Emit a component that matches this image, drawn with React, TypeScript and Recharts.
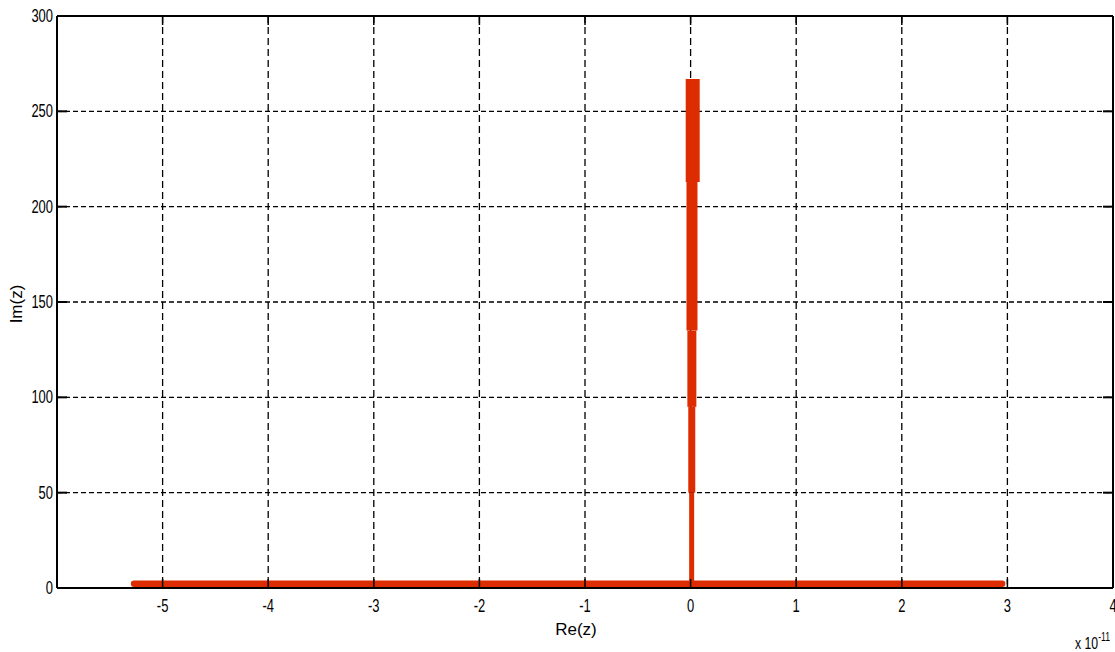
import React from "react";
import { ComposedChart, Line, XAxis, YAxis, CartesianGrid, ReferenceLine } from "recharts";

// x values in units of 1e-11
const xTicks = [-5, -4, -3, -2, -1, 0, 1, 2, 3, 4];
const yTicks = [0, 50, 100, 150, 200, 250, 300];

const realAxisLine = [
  { x: -5.27, y: 2.2 },
  { x: 2.95, y: 2.2 },
];

// vertical segment of the locus near Re(z)=0, in parts of differing thickness
const imagSeg1 = [
  { x: 0.01, y: 0 },
  { x: 0.01, y: 50 },
];
const imagSeg2 = [
  { x: 0.011, y: 50 },
  { x: 0.011, y: 95 },
];
const imagSeg3 = [
  { x: 0.012, y: 95 },
  { x: 0.012, y: 135 },
];
const imagSeg4 = [
  { x: 0.013, y: 135 },
  { x: 0.013, y: 213 },
];
const imagSeg5 = [
  { x: 0.02, y: 213 },
  { x: 0.02, y: 267 },
];

const W = 1115;
const H = 652;
const PLOT_H = 572;
const PLOT_W = 1056;
const RED = "#dd2c00";
const FONT = "'Liberation Sans', Arial, sans-serif";

const XTick = (props: any) => {
  const { x, y, payload } = props;
  return (
    <g>
      <line x1={x} y1={y} x2={x} y2={y - 9} stroke="#000" strokeWidth={1.5} />
      <line x1={x} y1={y - PLOT_H} x2={x} y2={y - PLOT_H + 9} stroke="#000" strokeWidth={1.5} />
      <g transform={`translate(${x},${y + 24}) scale(0.72,1)`}>
        <text x={0} y={0} textAnchor="middle" fontSize={18} fontFamily={FONT} fill="#000">
          {payload.value}
        </text>
      </g>
    </g>
  );
};

const YTick = (props: any) => {
  const { x, y, payload } = props;
  return (
    <g>
      <line x1={x} y1={y} x2={x + 10} y2={y} stroke="#000" strokeWidth={2} />
      <line x1={x + PLOT_W} y1={y} x2={x + PLOT_W - 10} y2={y} stroke="#000" strokeWidth={2} />
      <g transform={`translate(${x - 4},${y + 6}) scale(0.72,1)`}>
        <text x={0} y={0} textAnchor="end" fontSize={18} fontFamily={FONT} fill="#000">
          {payload.value}
        </text>
      </g>
    </g>
  );
};

export default function App() {
  return (
    <div style={{ position: "absolute", left: 0, top: 0, width: W, height: H, background: "#fff" }}>
      <ComposedChart width={W} height={H} margin={{ top: 16, right: 2, bottom: 34, left: 7 }}>
        <CartesianGrid horizontal={true} vertical={false} stroke="#000" strokeWidth={1.3} strokeDasharray="5 3" />
        <CartesianGrid horizontal={false} vertical={true} stroke="#000" strokeWidth={1.3} strokeDasharray="7 4" />
        <XAxis
          dataKey="x"
          type="number"
          domain={[-6, 4]}
          ticks={xTicks}
          allowDataOverflow
          height={30}
          tickSize={0}
          tickMargin={0}
          tickLine={false}
          axisLine={{ stroke: "#000", strokeWidth: 2 }}
          tick={<XTick />}
          interval={0}
        />
        <YAxis
          dataKey="y"
          type="number"
          domain={[0, 300]}
          ticks={yTicks}
          width={50}
          tickSize={0}
          tickMargin={0}
          tickLine={false}
          axisLine={{ stroke: "#000", strokeWidth: 2 }}
          tick={<YTick />}
          interval={0}
        />
        <ReferenceLine y={300} stroke="#000" strokeWidth={2} />
        <ReferenceLine x={4} stroke="#000" strokeWidth={2} />
        <Line data={realAxisLine} dataKey="y" stroke={RED} strokeWidth={6.5} dot={false} isAnimationActive={false} strokeLinecap="round" />
        <Line data={imagSeg1} dataKey="y" stroke={RED} strokeWidth={5} dot={false} isAnimationActive={false} />
        <Line data={imagSeg2} dataKey="y" stroke={RED} strokeWidth={7} dot={false} isAnimationActive={false} />
        <Line data={imagSeg3} dataKey="y" stroke={RED} strokeWidth={9} dot={false} isAnimationActive={false} />
        <Line data={imagSeg4} dataKey="y" stroke={RED} strokeWidth={11} dot={false} isAnimationActive={false} />
        <Line data={imagSeg5} dataKey="y" stroke={RED} strokeWidth={14} dot={false} isAnimationActive={false} />
      </ComposedChart>
      <div style={{ position: "absolute", left: 576, top: 620, transform: "translateX(-50%)", fontFamily: FONT, fontSize: 17, whiteSpace: "nowrap", color: "#000" }}>
        Re(z)
      </div>
      <div style={{ position: "absolute", left: 17, top: 304, transform: "translate(-50%,-50%) rotate(-90deg)", fontFamily: FONT, fontSize: 17, whiteSpace: "nowrap", color: "#000" }}>
        Im(z)
      </div>
      <div style={{ position: "absolute", left: 1075, top: 631, fontFamily: FONT, fontSize: 17, whiteSpace: "nowrap", color: "#000", transform: "scaleX(0.72)", transformOrigin: "left top" }}>
        x 10<sup style={{ fontSize: 12, position: "relative", top: -1 }}>-11</sup>
      </div>
    </div>
  );
}
